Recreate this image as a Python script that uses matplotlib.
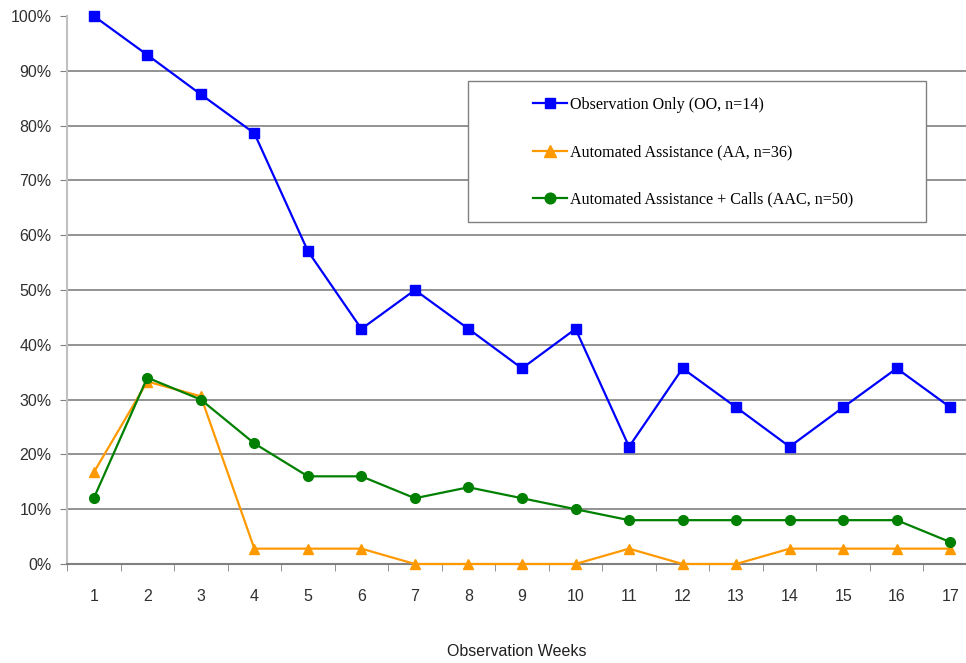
import matplotlib.pyplot as plt
from matplotlib.patches import Rectangle
from matplotlib.ticker import FixedLocator, PercentFormatter

weeks = list(range(1, 18))
oo = [100, 92.9, 85.7, 78.6, 57.1, 42.9, 50, 42.9, 35.7, 42.9, 21.4, 35.7, 28.6, 21.4, 28.6, 35.7, 28.6]
aa = [16.7, 33.3, 30.6, 2.8, 2.8, 2.8, 0, 0, 0, 0, 2.8, 0, 0, 2.8, 2.8, 2.8, 2.8]
aac = [12, 34, 30, 22, 16, 16, 12, 14, 12, 10, 8, 8, 8, 8, 8, 8, 4]

W, H = 966, 663
fig = plt.figure(figsize=(9.66, 6.63), dpi=100)
ax = fig.add_axes([67/W, 99/H, 1 - 67/W, 548/H])

ax.plot(weeks, oo, color='#0000ff', marker='s', markersize=7, lw=1.6,
        label='Observation Only (OO, n=14)', clip_on=False, zorder=5)
ax.plot(weeks, aa, color='#ff9900', marker='^', markersize=7.5, lw=1.6,
        label='Automated Assistance (AA, n=36)', clip_on=False, zorder=4)
ax.plot(weeks, aac, color='#008000', marker='o', markersize=7, lw=1.6,
        label='Automated Assistance + Calls (AAC, n=50)', clip_on=False, zorder=4)

ax.set_xlim(0.5, 17.5 - 11/53.5)
ax.set_ylim(0, 100)
ax.set_yticks(range(0, 101, 10))
ax.yaxis.set_major_formatter(PercentFormatter(decimals=0))
for y in range(10, 100, 10):
    ax.axhline(y, color='#808080', lw=1.2, zorder=1)

ax.set_xticks(weeks)
ax.xaxis.set_minor_locator(FixedLocator([w + 0.5 for w in range(0, 17)]))
ax.tick_params(axis='x', which='major', length=0, pad=18, labelsize=11.5)
ax.tick_params(axis='x', which='minor', length=5, color='#808080', direction='out')
ax.tick_params(axis='y', length=5, color='#808080', labelsize=11.5, pad=6)
for lbl in ax.get_xticklabels() + ax.get_yticklabels():
    lbl.set_fontfamily('Liberation Sans')
    lbl.set_color('#303030')

ax.spines['top'].set_visible(False)
ax.spines['right'].set_visible(False)
ax.spines['left'].set_color('#c0c0c0')
ax.spines['left'].set_linewidth(1.5)
ax.spines['bottom'].set_color('#808080')
ax.spines['bottom'].set_linewidth(1.5)

fig.text(517/W, 1 - 652/H, 'Observation Weeks', ha='center', va='center',
         fontsize=11.5, family='Liberation Sans', color='#202020')

# legend box drawn separately, entries sit right of a wide left margin
box = Rectangle((468/W, 1 - 222/H), (926 - 468)/W, (222 - 81)/H,
                transform=fig.transFigure, facecolor='white',
                edgecolor='#808080', lw=1.0, zorder=10)
fig.add_artist(box)
leg = fig.legend(*ax.get_legend_handles_labels(), loc='upper left',
                 bbox_to_anchor=(533/W, 1 - 97/H), frameon=False,
                 prop={'family': 'Liberation Serif', 'size': 11.6},
                 handlelength=2.1, handletextpad=0.2, labelspacing=1.95,
                 borderpad=0, borderaxespad=0, markerscale=1.1)
leg.set_zorder(11)

fig.savefig('out.png', dpi=100)
